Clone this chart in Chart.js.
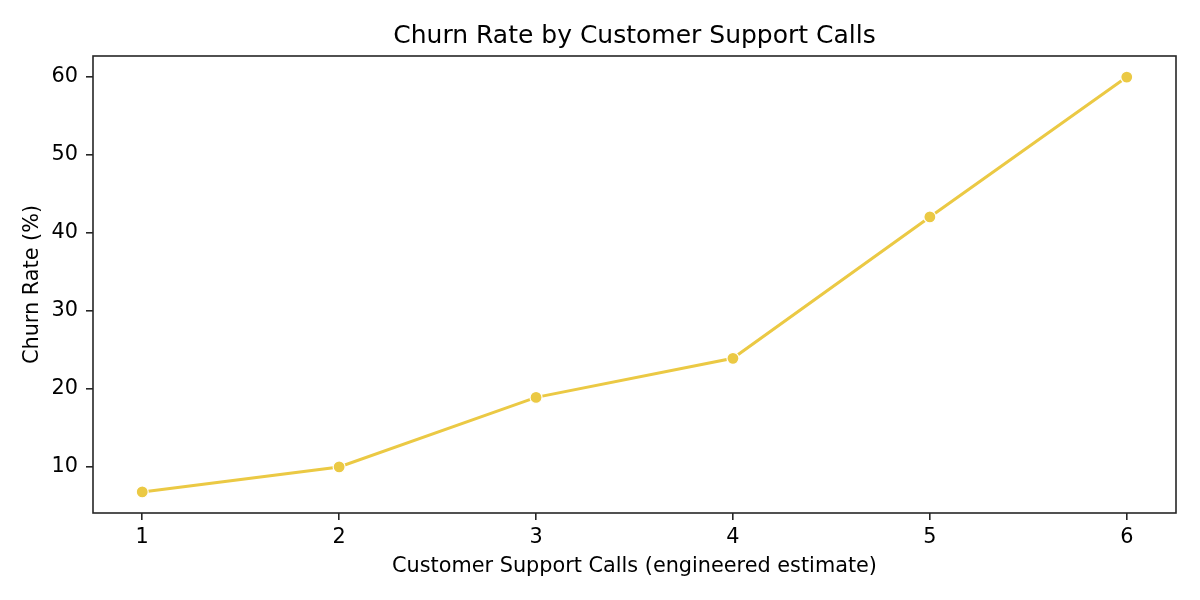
<!DOCTYPE html>
<html>
<head>
<meta charset="utf-8">
<script src="https://cdn.jsdelivr.net/npm/chart.js@4"></script>
<style>
  html, body { margin: 0; padding: 0; background: #fff; }
  canvas { display: block; }
</style>
</head>
<body>
<canvas id="chart" width="1200" height="600"></canvas>
<script>
const supportCalls = [1, 2, 3, 4, 5, 6];
const churnRate = [6.8, 10.0, 18.9, 23.9, 42.0, 59.9];
const xTicks = [1, 2, 3, 4, 5, 6];
const yTicks = [10, 20, 30, 40, 50, 60];
const chartTitle = 'Churn Rate by Customer Support Calls';

const lineColor = '#EBC944';
const inkColor = '#262626';

// matplotlib-style frame, plus a title centred over the plot area
const framePlugin = {
  id: 'frame',
  afterDraw(chart) {
    const { ctx, chartArea } = chart;
    ctx.save();
    ctx.strokeStyle = inkColor;
    ctx.lineWidth = 1.6;
    ctx.strokeRect(chartArea.left, chartArea.top, chartArea.right - chartArea.left, chartArea.bottom - chartArea.top);
    ctx.fillStyle = '#000';
    ctx.font = '25px "DejaVu Sans"';
    ctx.textAlign = 'center';
    ctx.textBaseline = 'alphabetic';
    ctx.fillText(chartTitle, (chartArea.left + chartArea.right) / 2, chartArea.top - 13);
    ctx.restore();
  }
};

const ctx = document.getElementById('chart');
new Chart(ctx, {
  type: 'line',
  data: {
    datasets: [{
      data: supportCalls.map((x, i) => ({ x: x, y: churnRate[i] })),
      borderColor: lineColor,
      borderWidth: 3,
      pointRadius: 6,
      pointBackgroundColor: lineColor,
      pointBorderColor: '#ffffff',
      pointBorderWidth: 1.2,
      tension: 0
    }]
  },
  options: {
    responsive: false,
    animation: false,
    layout: { padding: { left: 0, top: 56, bottom: 0, right: 24 } },
    plugins: {
      legend: { display: false },
      tooltip: { enabled: false },
      title: { display: false }
    },
    scales: {
      x: {
        type: 'linear',
        min: 0.75,
        max: 6.25,
        afterBuildTicks(scale) { scale.ticks = xTicks.map(v => ({ value: v })); },
        afterFit(scale) { scale.height = 87; },
        grid: { display: true, drawOnChartArea: false, drawTicks: true, tickLength: 7, tickColor: inkColor, lineWidth: 1.6 },
        border: { display: false },
        ticks: { color: '#000', padding: 5, maxRotation: 0, font: { family: 'DejaVu Sans', size: 20.8 } },
        title: {
          display: true,
          text: 'Customer Support Calls (engineered estimate)',
          color: '#000',
          font: { family: 'DejaVu Sans', size: 20.8 },
          padding: { top: 4, bottom: 21 }
        }
      },
      y: {
        type: 'linear',
        min: 4.1,
        max: 62.6,
        afterBuildTicks(scale) { scale.ticks = yTicks.map(v => ({ value: v })); },
        afterFit(scale) { scale.width = 93; },
        grid: { display: true, drawOnChartArea: false, drawTicks: true, tickLength: 7, tickColor: inkColor, lineWidth: 1.6 },
        border: { display: false },
        ticks: { color: '#000', padding: 8, font: { family: 'DejaVu Sans', size: 20.8 } },
        title: {
          display: true,
          text: 'Churn Rate (%)',
          color: '#000',
          font: { family: 'DejaVu Sans', size: 20.8 },
          padding: { top: 20, bottom: 4 }
        }
      }
    }
  },
  plugins: [framePlugin]
});
</script>
</body>
</html>
